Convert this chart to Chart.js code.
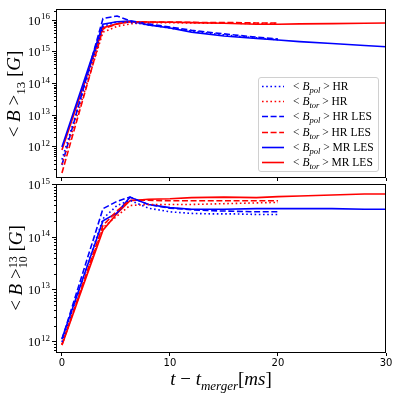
<!DOCTYPE html>
<html>
<head>
<meta charset="utf-8">
<script src="https://cdn.jsdelivr.net/npm/chart.js@4.4.1/dist/chart.umd.min.js"></script>
<style>
  body { margin: 0; background: #fff; }
  #wrap { position: relative; width: 399px; height: 399px; font-family: "Liberation Serif", serif; color: #000; }
  .panel { position: absolute; left: 0; width: 399px; }
  .ytitle { position: absolute; transform: translate(-50%, -50%) rotate(-90deg); white-space: nowrap; font-size: 19px; }
  .xtitle { position: absolute; transform: translate(-50%, -50%); white-space: nowrap; font-size: 19px; }
  .ytitle sub, .xtitle sub { font-size: 13px; }
  #legend { position: absolute; left: 258px; top: 77px; width: 121px; height: 95px; border: 1px solid #d0d0d0;
            border-radius: 3px; background: rgba(255,255,255,0.85); font-size: 11.5px; box-sizing: border-box; }
  .row { position: absolute; left: 0; height: 14px; line-height: 14px; white-space: nowrap; }
  .row svg { position: absolute; left: 3px; top: 6px; }
  .row span { position: absolute; left: 34px; top: 0; }
  .row sub { font-size: 8.5px; font-style: italic; }
</style>
</head>
<body>
<div id="wrap">
  <div class="panel" style="top:0;height:182px"><canvas id="top" width="399" height="182"></canvas></div>
  <div class="panel" style="top:170px;height:229px"><canvas id="bottom" width="399" height="229"></canvas></div>
  <div class="ytitle" style="left:16px;top:94px">&lt; <i>B</i> &gt;<sub>13</sub> [<i>G</i>]</div>
  <div class="ytitle" style="left:16px;top:268px">&lt; <i>B</i> &gt;<span style="display:inline-block;vertical-align:middle;line-height:10px;font-size:12px;text-align:left">13<br>10</span> [<i>G</i>]</div>
  <div class="xtitle" style="left:221px;top:381px"><i>t</i> &minus; <i>t</i><sub><i>merger</i></sub>[<i>ms</i>]</div>
  <div id="legend"></div>
</div>
<script>
// time axes (ms after merger)
const tHR = [0, 3.8, 5.1, 6.3, 8, 10, 12, 14, 16, 18, 20];
const tMR = [0, 3.8, 5.1, 6.3, 8, 10, 12, 15, 18, 20, 22, 25, 28, 30];

// log10 of <B>_13 [G], upper panel
const topPolHR    = [11.6, 15.8, 15.95, 15.93, 15.85, 15.75, 15.65, 15.57, 15.5, 15.44, 15.38];
const topTorHR    = [11.45, 15.62, 15.8, 15.88, 15.92, 15.92, 15.91, 15.9, 15.9, 15.89, 15.89];
const topPolHRLES = [11.43, 16.05, 16.13, 15.98, 15.88, 15.78, 15.68, 15.6, 15.53, 15.46, 15.4];
const topTorHRLES = [11.18, 15.72, 15.88, 15.95, 15.94, 15.94, 15.93, 15.92, 15.92, 15.91, 15.91];
const topPolMRLES = [12.0, 15.87, 15.95, 15.97, 15.85, 15.75, 15.62, 15.5, 15.42, 15.37, 15.32, 15.26, 15.2, 15.16];
const topTorMRLES = [11.9, 15.76, 15.88, 15.95, 15.94, 15.93, 15.92, 15.9, 15.87, 15.87, 15.88, 15.89, 15.9, 15.91];

// log10 of <B>^13_10 [G], lower panel
const botPolHR    = [12.0, 14.35, 14.6, 14.7, 14.55, 14.48, 14.45, 14.44, 14.44, 14.43, 14.43];
const botTorHR    = [11.95, 14.18, 14.4, 14.6, 14.62, 14.62, 14.62, 14.63, 14.64, 14.65, 14.66];
const botPolHRLES = [12.05, 14.54, 14.68, 14.76, 14.62, 14.55, 14.52, 14.5, 14.49, 14.48, 14.48];
const botTorHRLES = [11.95, 14.22, 14.5, 14.7, 14.7, 14.69, 14.69, 14.69, 14.69, 14.69, 14.69];
const botPolMRLES = [12.06, 14.31, 14.46, 14.76, 14.62, 14.56, 14.53, 14.53, 14.54, 14.54, 14.54, 14.54, 14.53, 14.53];
const botTorMRLES = [11.94, 14.13, 14.45, 14.69, 14.72, 14.73, 14.75, 14.76, 14.75, 14.77, 14.78, 14.8, 14.82, 14.82];

const xTicks = [0, 10, 20, 30];
const components = ['pol', 'tor', 'pol', 'tor', 'pol', 'tor'];
const runs = ['HR', 'HR', 'HR LES', 'HR LES', 'MR LES', 'MR LES'];

const BLUE = '#0000ff', RED = '#ff0000';
const DOT = [1.6, 2.6], DASH = [6, 2.6], SOLID = [];
const styles = [
  { color: BLUE, dash: DOT }, { color: RED, dash: DOT },
  { color: BLUE, dash: DASH }, { color: RED, dash: DASH },
  { color: BLUE, dash: SOLID }, { color: RED, dash: SOLID },
];

const isDecade = v => Math.abs(Math.log10(v) - Math.round(Math.log10(v))) < 1e-6;

function makeSets(series) {
  return series.map((s, i) => ({
    label: '<B_' + components[i] + '> ' + runs[i],
    data: s.t.map((t, k) => ({ x: t, y: Math.pow(10, s.v[k]) })),
    borderColor: styles[i].color,
    borderDash: styles[i].dash,
    borderWidth: 1.6,
    pointRadius: 0,
    fill: false,
    tension: 0,
  }));
}

// box around the axes, minor ticks, and 10^n labels with a real raised exponent
const frame = {
  id: 'frame',
  afterDraw(chart) {
    const { ctx, chartArea: a } = chart;
    const y = chart.scales.y;
    ctx.save();
    ctx.strokeStyle = '#000';
    ctx.fillStyle = '#000';
    ctx.lineWidth = 1;
    y.ticks.forEach(t => {
      const py = y.getPixelForValue(t.value);
      if (isDecade(t.value)) {
        const exp = String(Math.round(Math.log10(t.value)));
        const right = a.left - 6;
        ctx.font = '9px "Liberation Serif"';
        ctx.textAlign = 'right';
        ctx.textBaseline = 'alphabetic';
        const ew = ctx.measureText(exp).width;
        ctx.fillText(exp, right, py - 1);
        ctx.font = '12.5px "Liberation Serif"';
        ctx.fillText('10', right - ew - 0.5, py + 4.5);
        return;
      }
      const ry = Math.round(py) + 0.5;
      ctx.beginPath(); ctx.moveTo(a.left - 2, ry); ctx.lineTo(a.left, ry); ctx.stroke();
    });
    ctx.strokeRect(Math.round(a.left) + 0.5, Math.round(a.top) + 0.5,
                   Math.round(a.right - a.left) - 1, Math.round(a.bottom - a.top) - 1);
    ctx.restore();
  }
};

function makeChart(id, series, lo, hi, showX, padTop, xHeight) {
  return new Chart(document.getElementById(id), {
    type: 'line',
    data: { datasets: makeSets(series) },
    options: {
      responsive: false,
      animation: false,
      layout: { padding: { top: padTop, right: 13, left: 0, bottom: 0 } },
      plugins: { legend: { display: false }, tooltip: { enabled: false } },
      scales: {
        x: {
          type: 'linear', min: -0.55, max: 30,
          afterBuildTicks: s => { s.ticks = xTicks.map(v => ({ value: v })); },
          afterFit: s => { s.height = xHeight; },
          grid: { drawOnChartArea: false, drawTicks: true, tickLength: 3, color: '#000', tickColor: '#000' },
          border: { display: false },
          ticks: { display: showX, padding: 1, color: '#000', font: { family: 'DejaVu Sans', size: 10 } },
        },
        y: {
          type: 'logarithmic', min: Math.pow(10, lo), max: Math.pow(10, hi),
          afterBuildTicks: s => {
            const out = [];
            for (let e = Math.floor(lo); e <= Math.ceil(hi); e++) {
              for (let m = 1; m <= 9; m++) {
                const v = m * Math.pow(10, e);
                if (Math.log10(v) >= lo && Math.log10(v) <= hi) out.push({ value: v });
              }
            }
            s.ticks = out;
          },
          afterFit: s => { s.width = 56; },
          grid: {
            drawOnChartArea: false, drawTicks: true, tickLength: 4, color: '#000',
            tickColor: c => (c.tick && isDecade(c.tick.value)) ? '#000' : 'rgba(0,0,0,0)',
          },
          border: { display: false },
          ticks: { autoSkip: false, display: false },
        },
      },
    },
    plugins: [frame],
  });
}

makeChart('top', [
  { t: tHR, v: topPolHR }, { t: tHR, v: topTorHR },
  { t: tHR, v: topPolHRLES }, { t: tHR, v: topTorHRLES },
  { t: tMR, v: topPolMRLES }, { t: tMR, v: topTorMRLES },
], 11.02, 16.35, false, 9, 4);

makeChart('bottom', [
  { t: tHR, v: botPolHR }, { t: tHR, v: botTorHR },
  { t: tHR, v: botPolHRLES }, { t: tHR, v: botTorHRLES },
  { t: tMR, v: botPolMRLES }, { t: tMR, v: botTorMRLES },
], 11.79, 15.01, true, 14, 46);

// legend, same order as the datasets
const legend = document.getElementById('legend');
styles.forEach((st, i) => {
  const row = document.createElement('div');
  row.className = 'row';
  row.style.top = (1 + i * 15.2) + 'px';
  row.innerHTML =
    '<svg width="24" height="3"><line x1="0" y1="1.5" x2="22" y2="1.5" stroke="' + st.color +
    '" stroke-width="1.6" stroke-dasharray="' + (st.dash.length ? st.dash.join(',') : 'none') + '"/></svg>' +
    '<span>&lt; <i>B</i><sub>' + components[i] + '</sub> &gt; ' + runs[i] + '</span>';
  legend.appendChild(row);
});
</script>
</body>
</html>
